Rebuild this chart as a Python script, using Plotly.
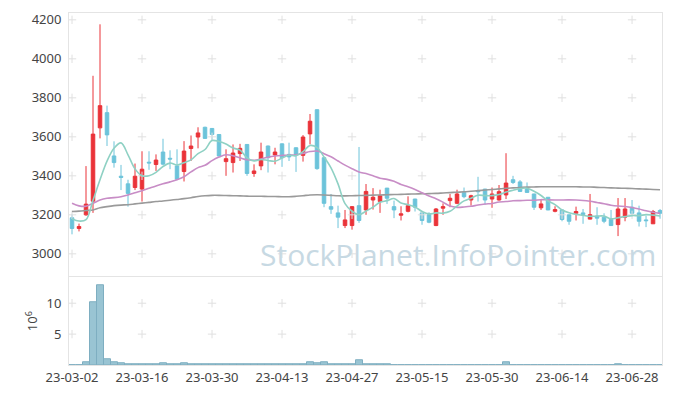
import plotly.graph_objects as go
import pandas as pd

# ---------------- data ----------------
dates = [
    "23-03-02", "23-03-03", "23-03-06", "23-03-07", "23-03-08", "23-03-09", "23-03-10",
    "23-03-13", "23-03-14", "23-03-15", "23-03-16", "23-03-17", "23-03-20", "23-03-21",
    "23-03-22", "23-03-23", "23-03-24", "23-03-27", "23-03-28", "23-03-29", "23-03-30",
    "23-03-31",
    "23-04-03", "23-04-04", "23-04-05", "23-04-06", "23-04-07", "23-04-10", "23-04-11",
    "23-04-12", "23-04-13", "23-04-14", "23-04-17", "23-04-18", "23-04-19", "23-04-20",
    "23-04-21", "23-04-24", "23-04-25", "23-04-26", "23-04-27", "23-04-28",
    "23-05-02", "23-05-03", "23-05-04", "23-05-08", "23-05-09", "23-05-10", "23-05-11",
    "23-05-12", "23-05-15", "23-05-16", "23-05-17", "23-05-18", "23-05-19", "23-05-22",
    "23-05-23", "23-05-24", "23-05-25", "23-05-26", "23-05-30", "23-05-31",
    "23-06-01", "23-06-02", "23-06-05", "23-06-07", "23-06-08", "23-06-09", "23-06-12",
    "23-06-13", "23-06-14", "23-06-15", "23-06-16", "23-06-19", "23-06-20", "23-06-21",
    "23-06-22", "23-06-23", "23-06-26", "23-06-27", "23-06-28", "23-06-29", "23-06-30",
    "23-07-03", "23-07-04",
]

opens = [3185, 3130, 3200, 3270, 3646, 3724, 3502, 3398, 3359, 3340,
         3332, 3470, 3458, 3522, 3490, 3451, 3422, 3540, 3599, 3649,
         3643, 3612, 3473, 3468, 3514, 3561, 3412, 3451, 3553, 3507,
         3564, 3510, 3544, 3505, 3615, 3739, 3493, 3242, 3210, 3145,
         3145, 3247, 3225, 3276, 3269, 3337, 3242, 3198, 3218, 3281,
         3210, 3201, 3145, 3234, 3273, 3259, 3315, 3276, 3324, 3332,
         3281, 3276, 3302, 3380, 3369, 3332, 3307, 3236, 3290, 3218,
         3225, 3200, 3208, 3210, 3178, 3193, 3188, 3176, 3150, 3188,
         3239, 3210, 3174, 3154, 3222]
highs = [3205, 3155, 3450, 3913, 4177, 3760, 3577, 3456, 3380, 3463,
         3526, 3526, 3510, 3590, 3531, 3536, 3578, 3607, 3649, 3652,
         3645, 3614, 3536, 3561, 3564, 3563, 3459, 3570, 3555, 3544,
         3566, 3570, 3546, 3609, 3717, 3741, 3494, 3307, 3247, 3225,
         3245, 3548, 3358, 3337, 3329, 3338, 3273, 3244, 3295, 3282,
         3211, 3213, 3235, 3259, 3307, 3329, 3340, 3303, 3395, 3333,
         3340, 3353, 3516, 3400, 3378, 3366, 3308, 3278, 3291, 3244,
         3226, 3201, 3242, 3230, 3307, 3239, 3208, 3225, 3286, 3286,
         3276, 3247, 3196, 3225, 3230]
lows = [3100, 3115, 3195, 3210, 3592, 3553, 3442, 3327, 3242, 3327,
        3268, 3431, 3425, 3455, 3434, 3378, 3371, 3476, 3541, 3590,
        3582, 3500, 3400, 3417, 3476, 3400, 3395, 3429, 3417, 3459,
        3446, 3476, 3420, 3473, 3561, 3431, 3239, 3205, 3132, 3132,
        3124, 3159, 3200, 3227, 3210, 3256, 3183, 3171, 3213, 3217,
        3149, 3157, 3142, 3200, 3239, 3255, 3285, 3247, 3268, 3251,
        3236, 3273, 3281, 3358, 3319, 3314, 3225, 3225, 3224, 3213,
        3167, 3149, 3171, 3154, 3177, 3149, 3157, 3144, 3091, 3167,
        3196, 3140, 3137, 3153, 3180]
closes = [3130, 3140, 3255, 3614, 3760, 3610, 3468, 3392, 3310, 3398,
          3434, 3466, 3481, 3460, 3486, 3383, 3527, 3553, 3620, 3592,
          3612, 3502, 3488, 3517, 3541, 3412, 3425, 3522, 3493, 3522,
          3493, 3497, 3510, 3599, 3680, 3437, 3259, 3229, 3188, 3174,
          3242, 3171, 3320, 3290, 3298, 3285, 3225, 3205, 3247, 3239,
          3171, 3162, 3230, 3242, 3285, 3307, 3293, 3298, 3319, 3276,
          3307, 3319, 3363, 3366, 3320, 3315, 3239, 3256, 3225, 3227,
          3176, 3167, 3217, 3201, 3201, 3183, 3167, 3145, 3230, 3230,
          3208, 3167, 3170, 3217, 3208]

# volume in millions of shares
volumes_m = [0.03, 0.04, 0.45, 10.2, 12.9, 0.9, 0.45, 0.25, 0.2, 0.2,
             0.18, 0.18, 0.18, 0.3, 0.12, 0.12, 0.3, 0.15, 0.15, 0.12,
             0.12, 0.1, 0.1, 0.1, 0.1, 0.12, 0.08, 0.12, 0.08, 0.12,
             0.08, 0.12, 0.08, 0.12, 0.5, 0.3, 0.5, 0.12, 0.1, 0.06,
             0.06, 0.8, 0.06, 0.05, 0.05, 0.05, 0.04, 0.04, 0.04, 0.04,
             0.04, 0.04, 0.04, 0.04, 0.04, 0.04, 0.04, 0.04, 0.04, 0.04,
             0.04, 0.04, 0.45, 0.04, 0.04, 0.04, 0.04, 0.04, 0.04, 0.04,
             0.04, 0.04, 0.04, 0.04, 0.04, 0.04, 0.04, 0.04, 0.12, 0.04,
             0.04, 0.04, 0.04, 0.04, 0.04]

# moving-average values read where prior history is needed
ma5_head = [3180, 3168, 3175, 3275]
ma20_head = [3259, 3246, 3244, 3259, 3276, 3285, 3288, 3293, 3302, 3313,
             3324, 3336, 3348, 3359, 3369, 3380, 3395, 3420, 3442]
ma120 = [3217, 3219, 3222, 3225, 3236, 3242, 3247, 3250, 3252, 3256,
         3260, 3264, 3268, 3271, 3275, 3279, 3283, 3288, 3294, 3298,
         3300, 3300, 3299, 3298, 3297, 3296, 3295, 3295, 3294, 3294,
         3293, 3293, 3295, 3298, 3302, 3303, 3302, 3300, 3298, 3297,
         3298, 3299, 3300, 3301, 3302, 3303, 3304, 3305, 3306, 3307,
         3308, 3309, 3310, 3312, 3314, 3316, 3318, 3321, 3324, 3327,
         3330, 3333, 3336, 3338, 3340, 3342, 3343, 3344, 3344, 3344,
         3344, 3344, 3344, 3343, 3343, 3341, 3340, 3338, 3337, 3336,
         3335, 3333, 3332, 3330, 3329]

price_ticks = [3000, 3200, 3400, 3600, 3800, 4000, 4200]
volume_ticks = [5, 10]
label_index = [0, 10, 20, 30, 40, 50, 60, 70, 80]

# ---------------- derived ----------------
cs = pd.Series(closes, dtype=float)
ma5 = cs.rolling(5).mean()
ma5.iloc[:len(ma5_head)] = ma5_head
ma20 = cs.rolling(20).mean()
ma20.iloc[:len(ma20_head)] = ma20_head

RED = "#ea3339"
BLUE = "#6cc3da"
GRID = "#e0e0e0"
FONT = "Noto Sans"

fig = go.Figure()

# grid crosses
cx, cy = [], []
for i in label_index:
    for v in price_ticks:
        cx.append(dates[i]); cy.append(v)
fig.add_trace(go.Scatter(x=cx, y=cy, mode="markers", xaxis="x", yaxis="y",
                         marker=dict(symbol="cross-thin", size=6,
                                     line=dict(color=GRID, width=1)),
                         hoverinfo="skip", showlegend=False))
vx, vy = [], []
for i in label_index:
    for v in volume_ticks:
        vx.append(dates[i]); vy.append(v)
fig.add_trace(go.Scatter(x=vx, y=vy, mode="markers", xaxis="x2", yaxis="y2",
                         marker=dict(symbol="cross-thin", size=6,
                                     line=dict(color=GRID, width=1)),
                         hoverinfo="skip", showlegend=False))

# moving averages
fig.add_trace(go.Scatter(x=dates, y=ma120, mode="lines", line=dict(color="#9a9a9a", width=1.6, shape="spline"),
                         xaxis="x", yaxis="y", showlegend=False, hoverinfo="skip"))
fig.add_trace(go.Scatter(x=dates, y=ma20, mode="lines", line=dict(color="#c88dc6", width=1.6, shape="spline"),
                         xaxis="x", yaxis="y", showlegend=False, hoverinfo="skip"))
fig.add_trace(go.Scatter(x=dates, y=ma5, mode="lines", line=dict(color="#8fd1c4", width=1.6, shape="spline"),
                         xaxis="x", yaxis="y", showlegend=False, hoverinfo="skip"))

# candles
fig.add_trace(go.Candlestick(
    x=dates, open=opens, high=highs, low=lows, close=closes,
    increasing=dict(line=dict(color=RED, width=1), fillcolor=RED),
    decreasing=dict(line=dict(color=BLUE, width=1), fillcolor=BLUE),
    whiskerwidth=0, xaxis="x", yaxis="y", showlegend=False, hoverinfo="skip"))

# volume
fig.add_trace(go.Bar(x=dates, y=volumes_m, marker=dict(color="#99c4d3", line=dict(color="#7eaec1", width=1)),
                     xaxis="x2", yaxis="y2", showlegend=False, hoverinfo="skip"))

FRAME = "#e4e4e4"
xr = [-0.43, 84.28]
# page body has an 8px margin, so the figure is placed at (8, 8)
fig.update_layout(
    width=657, height=380,
    margin=dict(l=61, r=3, t=2, b=21),
    paper_bgcolor="white", plot_bgcolor="white",
    font=dict(family=FONT, size=13, color="#444"),
    boxgap=0.28,
    bargap=0.0,
    xaxis=dict(type="category", categoryorder="array", categoryarray=dates,
               range=xr, domain=[0, 1], anchor="y",
               showticklabels=False, showgrid=False, zeroline=False,
               rangeslider=dict(visible=False),
               showline=True, mirror=True, linecolor=FRAME, linewidth=1),
    yaxis=dict(domain=[0.2521, 1], range=[2885, 4235], tickvals=price_ticks,
               showgrid=False, zeroline=False, showline=True, mirror=True,
               linecolor=FRAME, linewidth=1, ticks="outside", ticklen=4,
               tickcolor="rgba(0,0,0,0)", tickfont=dict(size=13, color="#444")),
    xaxis2=dict(type="category", categoryorder="array", categoryarray=dates,
                range=xr, domain=[0, 1], anchor="y2", matches="x",
                tickvals=[dates[i] for i in label_index],
                ticktext=[dates[i] for i in label_index],
                tickangle=0, showgrid=False, zeroline=False,
                showline=True, mirror=True, linecolor=FRAME, linewidth=1,
                ticks="", tickfont=dict(size=13, color="#444")),
    yaxis2=dict(domain=[0, 0.2493], range=[0, 14.2], tickvals=volume_ticks,
                showgrid=False, zeroline=False, showline=True, mirror=True,
                linecolor=FRAME, linewidth=1, ticks="outside", ticklen=4,
                tickcolor="rgba(0,0,0,0)", tickfont=dict(size=13, color="#444"),
                title=dict(text="10<sup>6</sup>", font=dict(size=13, color="#444"), standoff=5)),
    annotations=[dict(text="StockPlanet.InfoPointer.com", xref="paper", yref="paper",
                      x=0.656, y=0.3137, xanchor="center", yanchor="middle",
                      showarrow=False, font=dict(family="Open Sans", size=30, color="#c7d9e3"))],
)

fig.write_html("out.html")
